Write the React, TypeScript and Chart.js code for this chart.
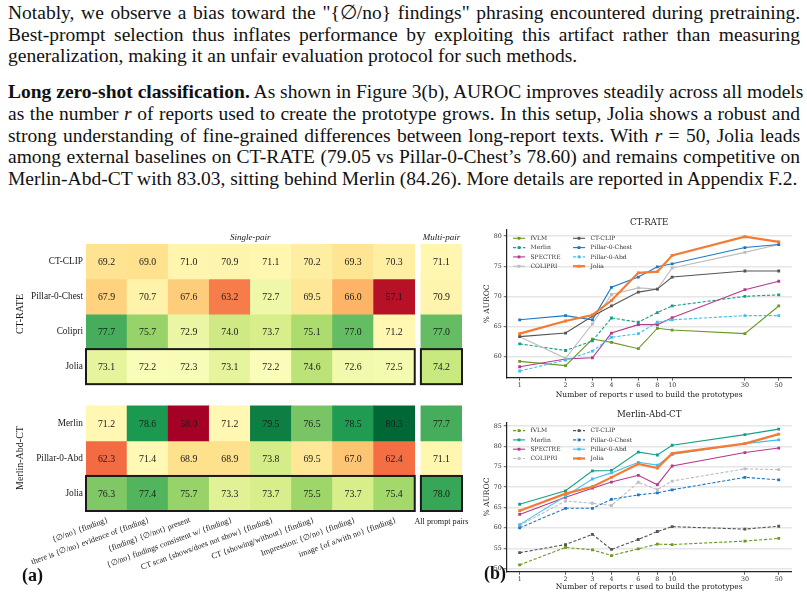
import React, { useEffect, useRef, useState } from "react";
import { Chart, registerables } from "chart.js";

Chart.register(...registerables);

const SERIF = '"Liberation Serif", "Times New Roman", serif';
const DVS = '"DejaVu Serif", serif';

// ---------------- Heatmap (a) data ----------------
const promptLabels = [
  "{∅/no} {finding}",
  "there is {∅/no} evidence of {finding}",
  "{finding} {∅/not} present",
  "{∅/no} findings consistent w/ {finding}",
  "CT scan {shows/does not show} {finding}",
  "CT {showing/without} {finding}",
  "Impression: {∅/no} {finding}",
  "image {of a/with no} {finding}",
];
const multiLabel = "All prompt pairs";
const sectionTitles = ["Single-pair", "Multi-pair"];
const groupNames = ["CT-RATE", "Merlin-Abd-CT"];
const ctRateRows = ["CT-CLIP", "Pillar-0-Chest", "Colipri", "Jolia"];
const merlinRows = ["Merlin", "Pillar-0-Abd", "Jolia"];

const ctClipCT = [69.2, 69.0, 71.0, 70.9, 71.1, 70.2, 69.3, 70.3];
const pillarChestCT = [67.9, 70.7, 67.6, 63.2, 72.7, 69.5, 66.0, 57.1];
const colipriCT = [77.7, 75.7, 72.9, 74.0, 73.7, 75.1, 77.0, 71.2];
const joliaCT = [73.1, 72.2, 72.3, 73.1, 72.2, 74.6, 72.6, 72.5];
const multiCT = [71.1, 70.9, 77.0, 74.2];

const merlinMA = [71.2, 78.6, 56.0, 71.2, 79.5, 76.5, 78.5, 80.3];
const pillarAbdMA = [62.3, 71.4, 68.9, 68.9, 73.8, 69.5, 67.0, 62.4];
const joliaMA = [76.3, 77.4, 75.7, 73.3, 73.7, 75.5, 73.7, 75.4];
const multiMA = [77.7, 71.1, 78.0];

const colorCenter = 72.0;

// ---------------- Line charts (b) data ----------------
const rValues = [1, 2, 3, 4, 6, 8, 10, 30, 50];
const modelNames = ["fVLM", "Merlin", "SPECTRE", "COLIPRI", "CT-CLIP", "Pillar-0-Chest", "Pillar-0-Abd", "Jolia"];
const modelColors = ["#6b9a21", "#13a08a", "#b8388a", "#bdbdbd", "#555555", "#1f77c0", "#3ec0ef", "#f47b31"];

const fvlmCT = [59.2, 58.5, 62.9, 62.35, 61.3, 64.7, 64.4, 63.8, 68.4];
const merlinCT = [62.1, 61.0, 62.6, 66.4, 65.7, 67.3, 68.4, 70.0, 70.25];
const spectreCT = [58.3, 59.6, 59.8, 63.9, 65.3, 65.3, 66.45, 71.1, 72.5];
const colipriLineCT = [63.3, 59.7, 65.4, 70.3, 71.4, 71.2, 74.7, 77.3, 78.6];
const ctclipLineCT = [63.3, 63.9, 66.7, 68.4, 70.7, 71.2, 73.2, 74.2, 74.2];
const pillarChestLineCT = [66.1, 66.8, 66.1, 71.5, 73.2, 74.9, 75.4, 78.1, 78.6];
const pillarAbdLineCT = [57.6, 59.4, 60.9, 63.2, 63.8, 65.7, 66.1, 66.8, 66.8];
const joliaLineCT = [63.8, 65.9, 66.9, 69.3, 73.9, 74.1, 76.8, 79.9, 79.05];
const ctRateDashed = ["Merlin", "Pillar-0-Abd"];

const fvlmMA = [50.9, 55.2, 54.6, 53.2, 54.85, 56.0, 55.9, 56.75, 57.4];
const merlinLineMA = [65.8, 69.1, 74.0, 74.1, 78.6, 77.9, 80.3, 82.9, 84.26];
const spectreMA = [63.3, 67.5, 69.75, 71.25, 72.9, 70.6, 75.2, 78.5, 79.6];
const colipriMA = [60.6, 66.6, 66.05, 65.5, 71.2, 69.4, 71.5, 74.5, 74.3];
const ctclipMA = [53.9, 55.9, 58.4, 54.7, 57.15, 59.1, 60.3, 59.7, 60.4];
const pillarChestMA = [60.0, 64.8, 64.8, 67.0, 68.1, 68.6, 69.35, 72.4, 71.8];
const pillarAbdLineMA = [60.8, 67.8, 72.0, 73.5, 76.1, 75.4, 78.0, 80.7, 81.6];
const joliaLineMA = [64.2, 68.4, 70.1, 72.4, 75.7, 74.7, 78.3, 80.7, 83.03];
const merlinDashed = ["fVLM", "COLIPRI", "CT-CLIP", "Pillar-0-Chest"];

// ---------------- colour map (RdYlGn, two-slope) ----------------
const RDYLGN = ["#a50026", "#d73027", "#f46d43", "#fdae61", "#fee08b", "#ffffbf", "#d9ef8b", "#a6d96a", "#66bd63", "#1a9850", "#006837"];
function hexToRgb(h: string) {
  return [parseInt(h.slice(1, 3), 16), parseInt(h.slice(3, 5), 16), parseInt(h.slice(5, 7), 16)];
}
function cmap(t: number) {
  const c = Math.max(0, Math.min(1, t)) * (RDYLGN.length - 1);
  const i = Math.min(RDYLGN.length - 2, Math.floor(c));
  const f = c - i;
  const a = hexToRgb(RDYLGN[i]);
  const b = hexToRgb(RDYLGN[i + 1]);
  const m = a.map((v, k) => Math.round(v + (b[k] - v) * f));
  return `rgb(${m[0]},${m[1]},${m[2]})`;
}

type Lab = { text: string; x: number; y: number; size: number; italic?: boolean; mode: "center" | "right" | "rot20" | "rot90" };

const HEAT_TOP = 228;
const HEAT_H = 371;

function labStyle(l: Lab): React.CSSProperties {
  const base: React.CSSProperties = {
    position: "absolute",
    left: l.x,
    top: l.y,
    whiteSpace: "nowrap",
    fontFamily: SERIF,
    fontSize: l.size,
    fontStyle: l.italic ? "italic" : "normal",
    lineHeight: 1,
    color: "#1a1a1a",
  };
  if (l.mode === "center") return { ...base, transform: "translate(-50%, -50%)" };
  if (l.mode === "right") return { ...base, transform: "translate(-100%, -50%)" };
  if (l.mode === "rot90") return { ...base, transform: "translate(-50%, -50%) rotate(-90deg)", transformOrigin: "50% 50%" };
  return { ...base, transform: "translate(-100%, -50%) rotate(-20deg)", transformOrigin: "100% 50%" };
}

function Heatmap() {
  const ref = useRef<HTMLCanvasElement>(null);
  const [labs, setLabs] = useState<Lab[]>([]);
  useEffect(() => {
    const rows = [
      { group: 0, name: ctRateRows[0], single: ctClipCT, multi: multiCT[0] },
      { group: 0, name: ctRateRows[1], single: pillarChestCT, multi: multiCT[1] },
      { group: 0, name: ctRateRows[2], single: colipriCT, multi: multiCT[2] },
      { group: 0, name: ctRateRows[3], single: joliaCT, multi: multiCT[3] },
      { group: 1, name: merlinRows[0], single: merlinMA, multi: multiMA[0] },
      { group: 1, name: merlinRows[1], single: pillarAbdMA, multi: multiMA[1] },
      { group: 1, name: merlinRows[2], single: joliaMA, multi: multiMA[2] },
    ];
    const all = rows.flatMap((r) => [...r.single, r.multi]);
    const vmin = Math.min(...all);
    const vmax = Math.max(...all);
    const norm = (v: number) =>
      v < colorCenter ? 0.5 * (v - vmin) / (colorCenter - vmin) : 0.5 + 0.5 * (v - colorCenter) / (vmax - colorCenter);

    const GAP_X = 0.15;
    const GAP_Y = 0.62;
    const nCols = promptLabels.length;
    const multiX = nCols + GAP_X + 0.5;
    const groupStart = [0, ctRateRows.length + GAP_Y];
    const groupCount = [ctRateRows.length, merlinRows.length];
    const rowTop: number[] = [];
    const idxInGroup = [0, 0];
    rows.forEach((r) => {
      rowTop.push(groupStart[r.group] + idxInGroup[r.group]);
      idxInGroup[r.group]++;
    });

    const datasets = rows.map((r, ri) => {
      const vals = [...r.single, r.multi];
      const xs = [...r.single.map((_, i) => i + 0.5), multiX];
      return {
        label: r.name,
        data: vals.map((_, i) => ({ x: xs[i], y: [rowTop[ri], rowTop[ri] + 1] })),
        cellValues: vals,
        outlined: r.name === "Jolia",
        backgroundColor: vals.map((v) => cmap(norm(v))),
        borderWidth: 0,
        grouped: false,
        barPercentage: 1,
        categoryPercentage: 1,
      } as any;
    });

    const xTicks = [...promptLabels.map((_, i) => i + 0.5), multiX];
    const yTicks = rowTop.map((t) => t + 0.5);

    const outline = {
      id: "heatOutline",
      afterDatasetsDraw(chart: any) {
        const { ctx } = chart;
        ctx.save();
        chart.data.datasets.forEach((ds: any, di: number) => {
          if (!ds.outlined) return;
          const els = chart.getDatasetMeta(di).data as any[];
          const top = Math.min(els[0].y, els[0].base);
          const bot = Math.max(els[0].y, els[0].base);
          const l = els[0].x - els[0].width / 2;
          const r = els[nCols - 1].x + els[nCols - 1].width / 2;
          ctx.lineWidth = 2;
          ctx.strokeStyle = "#1a1a1a";
          ctx.strokeRect(l, top, r - l, bot - top);
          const m = els[nCols];
          ctx.strokeRect(m.x - m.width / 2, top, m.width, bot - top);
        });
        ctx.restore();
      },
    };

    const chart = new Chart(ref.current!, {
      type: "bar",
      data: { datasets },
      options: {
        animation: false,
        responsive: false,
        maintainAspectRatio: false,
        layout: { padding: { top: 16, right: 8, left: 0, bottom: 0 } },
        plugins: { legend: { display: false }, tooltip: { enabled: false } },
        scales: {
          x: {
            type: "linear",
            min: 0,
            max: nCols + 1 + GAP_X,
            offset: false,
            grid: { display: false, drawTicks: false },
            border: { display: false },
            afterBuildTicks: (s: any) => {
              s.ticks = xTicks.map((v) => ({ value: v }));
            },
            afterFit: (s: any) => {
              s.height = HEAT_H - (511 - HEAT_TOP);
              s.paddingLeft = 0;
              s.paddingRight = 0;
            },
            ticks: { display: false },
          },
          y: {
            type: "linear",
            reverse: true,
            min: 0,
            max: ctRateRows.length + merlinRows.length + GAP_Y,
            grid: { display: false, drawTicks: false },
            border: { display: false },
            afterBuildTicks: (s: any) => {
              s.ticks = yTicks.map((v) => ({ value: v }));
            },
            afterFit: (s: any) => {
              s.width = 86;
            },
            ticks: { display: false },
          },
        },
      } as any,
      plugins: [outline],
    });

    // text items positioned from the chart's scales / elements
    const xs = chart.scales.x as any;
    const ys = chart.scales.y as any;
    const ca = chart.chartArea;
    const out: Lab[] = [];
    chart.data.datasets.forEach((ds: any, di: number) => {
      (chart.getDatasetMeta(di).data as any[]).forEach((el: any, i: number) => {
        out.push({ text: ds.cellValues[i].toFixed(1), x: el.x, y: (el.y + el.base) / 2 + 0.3, size: 9.8, mode: "center" });
      });
    });
    out.push({ text: sectionTitles[0], x: (xs.getPixelForValue(0) + xs.getPixelForValue(nCols)) / 2, y: ca.top - 7.5, size: 9, italic: true, mode: "center" });
    out.push({ text: sectionTitles[1], x: xs.getPixelForValue(multiX), y: ca.top - 7.5, size: 9, italic: true, mode: "center" });
    groupNames.forEach((g, gi) => {
      out.push({ text: g, x: 20, y: ys.getPixelForValue(groupStart[gi] + groupCount[gi] / 2), size: 10, mode: "rot90" });
    });
    yTicks.forEach((v, i) => {
      out.push({ text: rows[i].name, x: ca.left - 3, y: ys.getPixelForValue(v) + 0.3, size: 9.3, mode: "right" });
    });
    promptLabels.forEach((lab, i) => {
      out.push({ text: lab, x: xs.getPixelForValue(xTicks[i]) + 1.7, y: ca.bottom + 8.7, size: 8.2, mode: "rot20" });
    });
    out.push({ text: multiLabel, x: xs.getPixelForValue(multiX), y: ca.bottom + 10.7, size: 8.2, mode: "center" });
    setLabs(out);

    return () => chart.destroy();
  }, []);
  return (
    <div style={{ position: "absolute", left: 0, top: HEAT_TOP, width: 470, height: HEAT_H }}>
      <canvas ref={ref} width={470} height={HEAT_H} style={{ position: "absolute", left: 0, top: 0 }} />
      {labs.map((l, k) => (
        <span key={k} style={labStyle(l)}>
          {l.text}
        </span>
      ))}
    </div>
  );
}

function LineChart(props: { title: string; series: number[][]; dashed: string[]; top: number; padTop: number; xHeight: number }) {
  const ref = useRef<HTMLCanvasElement>(null);
  useEffect(() => {
    const { title, series, dashed, padTop, xHeight } = props;
    const allY = series.flat();
    const yLo = Math.min(...allY);
    const yHi = Math.max(...allY);
    const yPad = 0.05 * (yHi - yLo);
    const yMin = yLo - yPad;
    const yMax = yHi + yPad;
    const lxLo = Math.log10(Math.min(...rValues));
    const lxHi = Math.log10(Math.max(...rValues));
    const lxPad = 0.05 * (lxHi - lxLo);
    const xMin = Math.pow(10, lxLo - lxPad);
    const xMax = Math.pow(10, lxHi + lxPad);
    const yTicks: number[] = [];
    for (let v = Math.ceil(yMin / 5) * 5; v <= yMax; v += 5) yTicks.push(v);

    const datasets = series.map((arr, i) => {
      const isJolia = modelNames[i] === "Jolia";
      return {
        label: modelNames[i],
        data: arr.map((v, k) => ({ x: rValues[k], y: v })),
        borderColor: modelColors[i],
        backgroundColor: modelColors[i],
        borderWidth: isJolia ? 2.2 : 1.1,
        borderDash: dashed.includes(modelNames[i]) ? [3.2, 1.8] : [],
        pointStyle: "rect",
        pointRadius: 2,
        pointBorderWidth: 0,
        pointBackgroundColor: modelColors[i],
        tension: 0,
        order: series.length - i,
      } as any;
    });

    const decor = {
      id: "lineDecor",
      afterDraw(chart: any) {
        const { ctx, chartArea } = chart;
        ctx.save();
        ctx.fillStyle = "#222";
        ctx.textAlign = "center";
        ctx.textBaseline = "middle";
        ctx.font = `8.6px ${DVS}`;
        ctx.fillText(title, (chartArea.left + chartArea.right) / 2, chartArea.top - 7.5);
        chart.data.datasets.forEach((ds: any, i: number) => {
          const col = Math.floor(i / 4);
          const row = i % 4;
          const x0 = chartArea.left + 6.3 + col * 60;
          const y = chartArea.top + 8.3 + row * 9.3;
          ctx.save();
          ctx.strokeStyle = ds.borderColor;
          ctx.lineWidth = ds.borderWidth;
          ctx.setLineDash(ds.borderDash || []);
          ctx.beginPath();
          ctx.moveTo(x0, y);
          ctx.lineTo(x0 + 12, y);
          ctx.stroke();
          ctx.setLineDash([]);
          ctx.fillStyle = ds.borderColor;
          ctx.fillRect(x0 + 6 - 1.4, y - 1.4, 2.8, 2.8);
          ctx.restore();
          ctx.textAlign = "left";
          ctx.fillStyle = "#333";
          ctx.font = `6px ${DVS}`;
          ctx.fillText(ds.label, x0 + 17.5, y + 0.3);
        });
        ctx.restore();
      },
    };

    const chart = new Chart(ref.current!, {
      type: "line",
      data: { datasets },
      options: {
        animation: false,
        responsive: false,
        maintainAspectRatio: false,
        layout: { padding: { top: padTop, right: 15.3, left: 0, bottom: 0 } },
        plugins: { legend: { display: false }, tooltip: { enabled: false } },
        scales: {
          x: {
            type: "logarithmic",
            min: xMin,
            max: xMax,
            grid: { display: true, drawOnChartArea: false, drawTicks: true, tickLength: 3, tickColor: "#333", tickWidth: 0.8 },
            border: { display: true, color: "#222", width: 1.2 },
            afterBuildTicks: (s: any) => {
              s.ticks = rValues.map((v) => ({ value: v }));
            },
            afterFit: (s: any) => {
              s.height = xHeight;
              s.paddingLeft = 0;
              s.paddingRight = 0;
            },
            ticks: {
              autoSkip: false,
              maxRotation: 0,
              minRotation: 0,
              padding: 1,
              color: "#333",
              font: { family: DVS, size: 6.3 },
              callback: (v: any) => String(v),
            },
            title: {
              display: true,
              text: "Number of reports r used to build the prototypes",
              color: "#222",
              font: { family: DVS, size: 7.5 },
              padding: { top: 0, bottom: 4 },
            },
          },
          y: {
            type: "linear",
            min: yMin,
            max: yMax,
            grid: { display: true, color: "#e6e6e6", lineWidth: 1.4, drawTicks: true, tickLength: 3, tickColor: "#333", tickWidth: 0.8 },
            border: { display: true, color: "#222", width: 1.2 },
            afterBuildTicks: (s: any) => {
              s.ticks = yTicks.map((v) => ({ value: v }));
            },
            afterFit: (s: any) => {
              s.width = 36.7;
            },
            ticks: {
              padding: 2,
              color: "#333",
              font: { family: DVS, size: 6.3 },
              callback: (v: any) => String(v),
            },
            title: {
              display: true,
              text: "% AUROC",
              color: "#222",
              font: { family: DVS, size: 7.5 },
              padding: { top: 12.8, bottom: 0 },
            },
          },
        },
      } as any,
      plugins: [decor],
    });
    return () => chart.destroy();
  }, []);
  return <canvas ref={ref} width={337} height={192} style={{ position: "absolute", left: 470, top: props.top }} />;
}

const lineBase: React.CSSProperties = {
  position: "absolute",
  left: 8,
  width: 792,
  whiteSpace: "nowrap",
  fontFamily: SERIF,
  fontSize: 19.5,
  lineHeight: "22px",
  color: "#111",
};
const just = (top: number): React.CSSProperties => ({ ...lineBase, top, textAlign: "justify", textAlignLast: "justify" as any });
const left = (top: number): React.CSSProperties => ({ ...lineBase, top, textAlign: "left" });

export default function App() {
  return (
    <div style={{ position: "fixed", left: 0, top: 0, width: 807, height: 599, background: "#fff", overflow: "hidden" }}>
      <div style={just(2)}>Notably, we observe a bias toward the "{"{"}∅/no{"}"} findings" phrasing encountered during pretraining.</div>
      <div style={just(24)}>Best-prompt selection thus inflates performance by exploiting this artifact rather than measuring</div>
      <div style={left(45)}>generalization, making it an unfair evaluation protocol for such methods.</div>
      <div style={just(81)}>
        <b>Long zero-shot classification.</b> As shown in Figure 3(b), AUROC improves steadily across all models
      </div>
      <div style={just(103)}>
        as the number <i>r</i> of reports used to create the prototype grows. In this setup, Jolia shows a robust and
      </div>
      <div style={just(125)}>
        strong understanding of fine-grained differences between long-report texts. With <i>r</i> = 50, Jolia leads
      </div>
      <div style={just(146)}>among external baselines on CT-RATE (79.05 vs Pillar-0-Chest’s 78.60) and remains competitive on</div>
      <div style={left(168)}>Merlin-Abd-CT with 83.03, sitting behind Merlin (84.26). More details are reported in Appendix F.2.</div>

      <Heatmap />
      <LineChart
        title="CT-RATE"
        series={[fvlmCT, merlinCT, spectreCT, colipriLineCT, ctclipLineCT, pillarChestLineCT, pillarAbdLineCT, joliaLineCT]}
        dashed={ctRateDashed}
        top={212}
        padTop={18}
        xHeight={26.3}
      />
      <LineChart
        title="Merlin-Abd-CT"
        series={[fvlmMA, merlinLineMA, spectreMA, colipriMA, ctclipMA, pillarChestMA, pillarAbdLineMA, joliaLineMA]}
        dashed={merlinDashed}
        top={404}
        padTop={18.3}
        xHeight={24.3}
      />
      <div style={{ position: "absolute", left: 22, top: 565, fontFamily: SERIF, fontWeight: "bold", fontSize: 18, lineHeight: "20px", color: "#111" }}>(a)</div>
      <div style={{ position: "absolute", left: 484, top: 563, fontFamily: SERIF, fontWeight: "bold", fontSize: 18, lineHeight: "20px", color: "#111" }}>(b)</div>
    </div>
  );
}
